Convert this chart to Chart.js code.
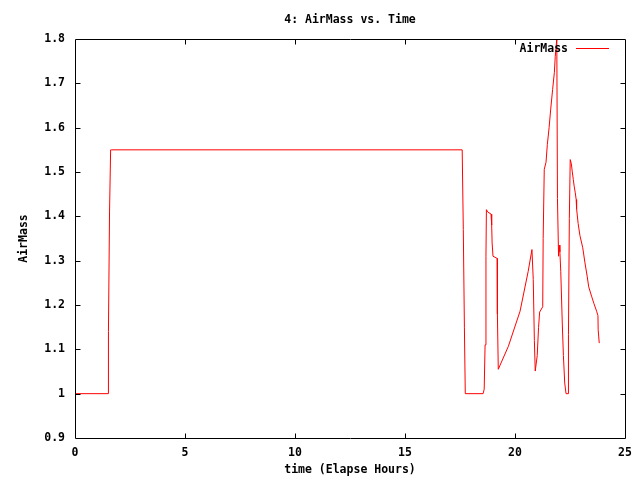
<!DOCTYPE html>
<html>
<head>
<meta charset="utf-8">
<script src="https://cdn.jsdelivr.net/npm/chart.js@4/dist/chart.umd.min.js"></script>
<style>
  html, body { margin: 0; padding: 0; background: #fff; }
  #wrap { width: 640px; height: 480px; position: relative; }
</style>
</head>
<body>
<div id="wrap"><canvas id="c" width="640" height="480"></canvas></div>
<script>
const chartTitle = "4: AirMass vs. Time";
const seriesName = "AirMass";
const xAxisTitle = "time (Elapse Hours)";
const yAxisTitle = "AirMass";

const elapsedHours = [
  0, 1.50, 1.52, 1.57, 1.62, 1.66,
  17.60, 17.65, 17.70, 17.74,
  18.55, 18.60, 18.64, 18.68, 18.70,
  18.76, 18.91, 18.94, 18.96, 19.00, 19.19, 19.20, 19.24,
  19.70, 20.23, 20.60, 20.77, 20.83, 20.88, 20.92,
  21.01, 21.07, 21.12, 21.26, 21.28, 21.33, 21.41, 21.47, 21.55, 21.62, 21.71, 21.79, 21.83, 21.90,
  21.93, 21.98, 22.01, 22.04, 22.08, 22.15, 22.20, 22.26, 22.32,
  22.42, 22.43, 22.47, 22.51,
  22.56, 22.60, 22.65, 22.69, 22.74, 22.78, 22.80, 22.87, 22.95, 23.08, 23.18, 23.28, 23.35,
  23.48, 23.59, 23.71, 23.77, 23.78, 23.83
];
const airMass = [
  1.0, 1.0, 1.14, 1.41, 1.55, 1.55,
  1.55, 1.37, 1.15, 1.0,
  1.0, 1.01, 1.11, 1.31, 1.415,
  1.41, 1.405, 1.38, 1.34, 1.31, 1.305, 1.18, 1.055,
  1.107, 1.186, 1.276, 1.325, 1.257, 1.12, 1.051,
  1.086, 1.149, 1.184, 1.196, 1.35, 1.506, 1.522, 1.562, 1.60, 1.64, 1.686, 1.725, 1.761, 1.80,
  1.44, 1.31, 1.335, 1.32, 1.276, 1.157, 1.086, 1.024, 1.0,
  1.0, 1.133, 1.395, 1.528,
  1.519, 1.502, 1.483, 1.468, 1.453, 1.438, 1.417, 1.384, 1.357, 1.329, 1.295, 1.265, 1.241,
  1.22, 1.203, 1.186, 1.176, 1.144, 1.114
];

const xTickValues = [0, 5, 10, 15, 20, 25];
const xTickLabels = ["0", "5", "10", "15", "20", "25"];
const yTickValues = [0.9, 1.0, 1.1, 1.2, 1.3, 1.4, 1.5, 1.6, 1.7, 1.8];
const yTickLabels = ["0.9", "1", "1.1", "1.2", "1.3", "1.4", "1.5", "1.6", "1.7", "1.8"];

const FONT = "'DejaVu Sans Mono', 'Liberation Mono', monospace";
const fontSpec = { family: FONT, size: 11.5, weight: 'bold' };

const points = elapsedHours.map((t, i) => ({ x: t, y: airMass[i] }));

const framePlugin = {
  id: 'frame',
  afterDraw(chart) {
    const { ctx, chartArea: a, scales } = chart;
    ctx.save();
    ctx.strokeStyle = '#000';
    ctx.lineWidth = 1;
    ctx.beginPath();
    const L = Math.round(a.left) + 0.5, R = Math.round(a.right) + 0.5;
    const T = Math.round(a.top) + 0.5, B = Math.round(a.bottom) + 0.5;
    ctx.rect(L, T, R - L, B - T);
    const tl = 5;
    xTickValues.forEach((v, i) => {
      if (i === 0 || i === xTickValues.length - 1) return;
      const px = Math.round(scales.x.getPixelForValue(v)) + 0.5;
      ctx.moveTo(px, B); ctx.lineTo(px, B - tl);
      ctx.moveTo(px, T); ctx.lineTo(px, T + tl);
    });
    yTickValues.forEach((v, i) => {
      if (i === 0 || i === yTickValues.length - 1) return;
      const py = Math.round(scales.y.getPixelForValue(v)) + 0.5;
      ctx.moveTo(L, py); ctx.lineTo(L + tl, py);
      ctx.moveTo(R, py); ctx.lineTo(R - tl, py);
    });
    ctx.stroke();

    ctx.font = "bold 11.5px " + FONT;
    ctx.fillStyle = '#000';
    ctx.textBaseline = 'middle';
    // chart title centred over the plot area
    ctx.textAlign = 'center';
    ctx.fillText(chartTitle, (a.left + a.right) / 2, 20);

    // legend (inside top-right)
    ctx.textAlign = 'right';
    const ly = 49;
    ctx.fillText(seriesName, 568, ly);
    ctx.strokeStyle = '#ff0000';
    ctx.beginPath();
    ctx.moveTo(576, ly - 0.5); ctx.lineTo(609, ly - 0.5);
    ctx.stroke();
    ctx.restore();
  }
};

new Chart(document.getElementById('c'), {
  type: 'scatter',
  data: {
    datasets: [{
      label: seriesName,
      data: points,
      showLine: true,
      borderColor: '#ff0000',
      backgroundColor: '#ff0000',
      borderWidth: 1,
      pointRadius: 0,
      tension: 0,
      fill: false
    }]
  },
  options: {
    responsive: false,
    animation: false,
    devicePixelRatio: 1,
    layout: { padding: { left: 0, right: 15, top: 39, bottom: 0 } },
    plugins: {
      legend: { display: false },
      tooltip: { enabled: false },
      title: { display: false }
    },
    scales: {
      x: {
        type: 'linear',
        min: 0, max: 25,
        afterBuildTicks(scale) { scale.ticks = xTickValues.map(v => ({ value: v })); },
        afterFit(scale) { scale.height = 42; },
        grid: { display: false, drawTicks: false },
        border: { display: false },
        ticks: {
          color: '#000', font: fontSpec, padding: 8, maxRotation: 0,
          callback: (v) => xTickLabels[xTickValues.indexOf(v)]
        },
        title: {
          display: true, text: xAxisTitle, color: '#000', font: fontSpec,
          padding: { top: 0, bottom: 3 }
        }
      },
      y: {
        type: 'linear',
        min: 0.9, max: 1.8,
        afterBuildTicks(scale) { scale.ticks = yTickValues.map(v => ({ value: v })); },
        afterFit(scale) { scale.width = 75; },
        grid: { display: false, drawTicks: false },
        border: { display: false },
        ticks: {
          color: '#000', font: fontSpec, padding: 10,
          callback: (v) => {
            const i = yTickValues.findIndex(t => Math.abs(t - v) < 1e-9);
            return i >= 0 ? yTickLabels[i] : '';
          }
        },
        title: {
          display: true, text: yAxisTitle, color: '#000', font: fontSpec,
          padding: { top: 17, bottom: 0 }
        }
      }
    }
  },
  plugins: [framePlugin]
});
</script>
</body>
</html>
